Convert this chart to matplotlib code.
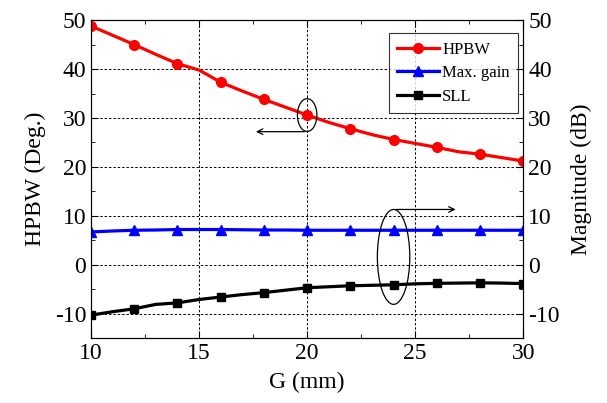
import numpy as np
import matplotlib.pyplot as plt
from matplotlib.patches import Ellipse

plt.rcParams['font.family'] = ['Liberation Serif', 'DejaVu Serif']
plt.rcParams['axes.unicode_minus'] = False

# G (mm), 1 mm steps for the lines, markers every 2 mm
g = np.arange(10, 31)
hpbw = [48.8, 46.9, 45.0, 43.0, 41.1, 39.8, 37.3, 35.5, 33.8, 32.2, 30.6,
        29.1, 27.8, 26.6, 25.6, 24.8, 24.0, 23.1, 22.6, 21.9, 21.2]
gain = [6.7, 6.9, 7.05, 7.1, 7.2, 7.2, 7.2, 7.15, 7.1, 7.1, 7.05,
        7.05, 7.05, 7.05, 7.05, 7.05, 7.05, 7.05, 7.05, 7.05, 7.05]
sll = [-10.3, -9.6, -9.0, -8.1, -7.8, -7.1, -6.6, -6.1, -5.7, -5.2, -4.7,
       -4.5, -4.3, -4.2, -4.1, -3.9, -3.8, -3.75, -3.7, -3.75, -3.85]

fig = plt.figure(figsize=(6.07, 4.03), dpi=100)
ax = fig.add_axes([0.150, 0.161, 0.712, 0.789])

lw = 2.3
ms = 7
ax.plot(g, hpbw, '-o', color='red', lw=lw, ms=ms, markevery=2, label='HPBW', zorder=3)
ax.plot(g, gain, '-^', color='blue', lw=lw, ms=ms, markevery=2, label='Max. gain', zorder=3)
ax.plot(g, sll, '-s', color='black', lw=lw, ms=ms - 1, markevery=2, label='SLL', zorder=3)

ax.set_xlim(10, 30)
ax.set_ylim(-15, 50)
ax.set_xticks([10, 15, 20, 25, 30])
ax.set_xticks(np.arange(10, 30.1, 2.5), minor=True)
ax.set_yticks(np.arange(-10, 51, 10))
ax.set_yticks(np.arange(-15, 51, 5), minor=True)
ax.grid(True, which='major', ls=(0, (2.5, 2)), color='black', lw=0.7)
ax.tick_params(which='both', direction='in', top=True, labelsize=17)
ax.tick_params(which='major', length=5)
ax.tick_params(which='minor', length=3)
ax.set_xlabel('G (mm)', fontsize=17, labelpad=6)
ax.set_ylabel('HPBW (Deg.)', fontsize=17, labelpad=6)

ax2 = ax.twinx()
ax2.set_ylim(-15, 50)
ax2.set_yticks(np.arange(-10, 51, 10))
ax2.set_yticks(np.arange(-15, 51, 5), minor=True)
ax2.tick_params(which='both', direction='in', labelsize=17)
ax2.tick_params(which='major', length=5)
ax2.tick_params(which='minor', length=3)
ax2.set_ylabel('Magnitude (dB)', fontsize=17, labelpad=8)

leg = ax.legend(loc='upper right', fontsize=12, frameon=True, fancybox=False,
                edgecolor='black', handlelength=2.5, borderpad=0.5,
                labelspacing=0.45, handletextpad=0.2, borderaxespad=0,
                bbox_to_anchor=(0.988, 0.959))
leg.get_frame().set_linewidth(0.8)

ax.add_patch(Ellipse((20, 30.6), 0.9, 6.7, fill=False, color='black', lw=0.9, zorder=4))
ax.annotate('', xy=(17.5, 27.2), xytext=(20, 27.2),
            arrowprops=dict(arrowstyle='->', color='black', lw=0.9))
ax.add_patch(Ellipse((24, 1.6), 1.5, 19.4, fill=False, color='black', lw=0.9, zorder=4))
ax.annotate('', xy=(27.0, 11.3), xytext=(24, 11.3),
            arrowprops=dict(arrowstyle='->', color='black', lw=0.9))

fig.savefig('out.png', dpi=100)
